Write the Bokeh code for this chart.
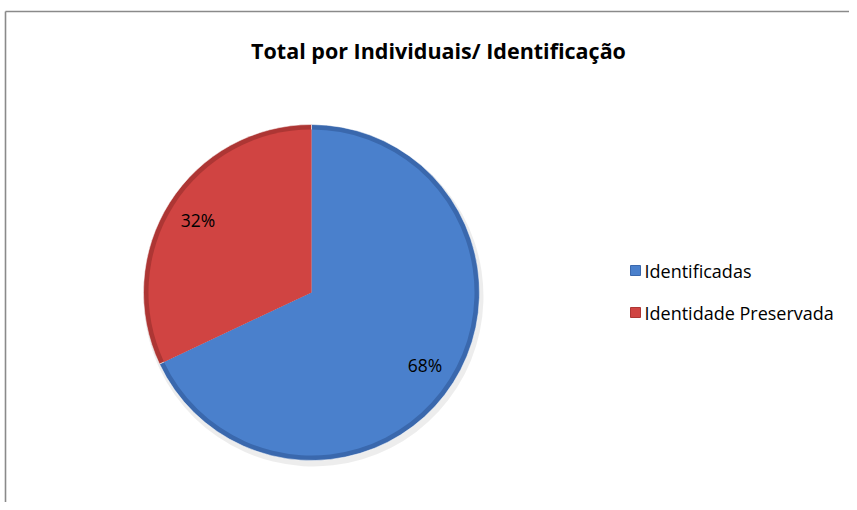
import math
from bokeh.plotting import figure
from bokeh.models import Range1d
from bokeh.core.properties import value
from bokeh.embed import file_html
from bokeh.resources import INLINE

# ---- data ----
title = "Total por Individuais/ Identificação"
categories = ["Identificadas", "Identidade Preservada"]
shares = [68, 32]
labels = ["68%", "32%"]
colors_main = ["#4a80cc", "#d04442"]
colors_edge = ["#3a68ad", "#ad3634"]

W, H = 849, 502
p = figure(width=W, height=H, output_backend="svg", toolbar_location=None,
           x_range=Range1d(0, W), y_range=Range1d(0, H), min_border=0)
p.axis.visible = False
p.grid.visible = False
p.outline_line_color = None
p.background_fill_color = "white"

FONT = value("Open Sans")

# chart frame (top and left edges visible)
top_y = H - 11
p.segment(x0=[5, 5], y0=[top_y, -10], x1=[W, 5], y1=[top_y, top_y],
          line_color="#8a8a8a", line_width=1.6)

# title
p.text(x=[438], y=[H - 50], text=[title], text_font=FONT, text_font_style="bold",
       text_font_size="21.5px", text_align="center", text_baseline="middle",
       text_color="#000000")

cx, cy, R = 311, H - 292, 168
total = sum(shares)
start = math.pi / 2
starts, ends, mids = [], [], []
for s in shares:
    sweep = 2 * math.pi * s / total
    starts.append(start)
    ends.append(start - sweep)
    mids.append(start - sweep / 2)
    start -= sweep

# faint shadow
p.wedge(x=[cx + 2] * 2, y=[cy - 4] * 2, radius=R + 2, radius_units="screen",
        start_angle=starts, end_angle=ends, direction="clock",
        fill_color="#000000", fill_alpha=0.07, line_color=None)
# outer (edge) wedges
p.wedge(x=[cx] * 2, y=[cy] * 2, radius=R, radius_units="screen",
        start_angle=starts, end_angle=ends, direction="clock",
        fill_color=colors_edge, line_color="#ffffff", line_alpha=0.5, line_width=1)
# inner lighter wedges for bevel look
p.wedge(x=[cx] * 2, y=[cy] * 2, radius=R - 5, radius_units="screen",
        start_angle=starts, end_angle=ends, direction="clock",
        fill_color=colors_main, line_color=None)

# labels
lx = [cx + 0.8 * R * math.cos(m) for m in mids]
ly = [cy + 0.8 * R * math.sin(m) for m in mids]
p.text(x=lx, y=ly, text=labels, text_font=FONT, text_font_size="17.5px",
       text_align="center", text_baseline="middle", text_color="#000000")

# legend
leg_x = 635
leg_y = [H - 270 - 42 * i for i in range(len(categories))]
p.scatter(x=[leg_x] * len(categories), y=leg_y, marker="square", size=10,
          fill_color=colors_main, line_color=colors_edge, line_width=1)
p.text(x=[leg_x + 9] * len(categories), y=leg_y, text=categories, text_font=FONT,
       text_font_size="18px", text_align="left", text_baseline="middle",
       text_color="#000000")

open("out.html", "w").write(file_html(p, INLINE))
